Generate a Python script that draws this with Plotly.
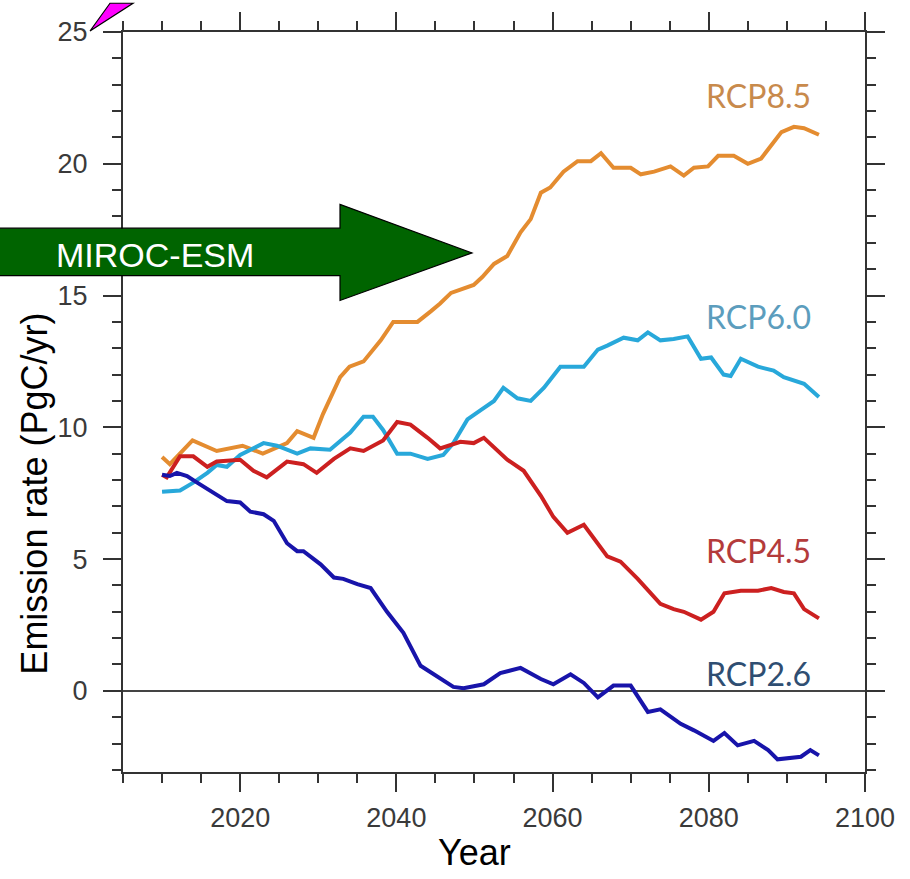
import plotly.graph_objects as go

# ---- data ----
years_85 = [2010, 2011, 2013.9, 2017, 2020.3, 2022.9, 2026, 2027.3, 2029.4, 2030.6, 2032.8, 2034,
            2035.8, 2038, 2039.6, 2042.7, 2044.4, 2045.6, 2047, 2049.9, 2051, 2052.5, 2054.2, 2055.9,
            2057.2, 2058.5, 2059.7, 2061.4, 2063.2, 2064.9, 2066.2, 2067.8, 2070, 2071.3, 2073, 2075.1,
            2076.8, 2078.1, 2079.9, 2081.2, 2083.2, 2085, 2086.7, 2088, 2089.3, 2090.9, 2092.2, 2094.1]
rcp85 = [8.87, 8.6, 9.5, 9.1, 9.3, 9.0, 9.4, 9.85, 9.6, 10.5, 11.9, 12.3,
         12.5, 13.3, 14.0, 14.0, 14.4, 14.7, 15.1, 15.4, 15.7, 16.2, 16.5, 17.4,
         17.9, 18.9, 19.1, 19.7, 20.1, 20.1, 20.4, 19.85, 19.85, 19.6, 19.7, 19.9,
         19.55, 19.85, 19.9, 20.3, 20.3, 20.0, 20.2, 20.7, 21.2, 21.4, 21.35, 21.1]

years_60 = [2010, 2012.3, 2014, 2015.8, 2017, 2018.3, 2020, 2023, 2024.7, 2027.3, 2029, 2031.5,
            2034.1, 2035.8, 2037, 2038.3, 2040.1, 2041.8, 2044, 2046, 2047.3, 2049.1, 2050.8, 2052.5,
            2053.7, 2055.5, 2057.2, 2058.9, 2059.7, 2061, 2064, 2065.8, 2067, 2069.1, 2070.9, 2072.2,
            2073.8, 2075.5, 2077.3, 2079, 2080.3, 2081.9, 2082.8, 2084.1, 2086.3, 2088.3, 2089.6,
            2090.5, 2092.2, 2094.1]
rcp60 = [7.55, 7.6, 7.9, 8.27, 8.57, 8.5, 8.95, 9.4, 9.3, 9.0, 9.2, 9.15,
         9.8, 10.4, 10.4, 9.9, 9.0, 9.0, 8.8, 8.95, 9.4, 10.3, 10.65, 11.0,
         11.5, 11.1, 11.0, 11.5, 11.8, 12.3, 12.3, 12.95, 13.1, 13.4, 13.3, 13.6,
         13.3, 13.35, 13.45, 12.6, 12.65, 12.0, 11.95, 12.6, 12.3, 12.15, 11.9,
         11.8, 11.65, 11.15]

years_45 = [2010, 2010.6, 2012.3, 2014, 2015.8, 2017, 2020, 2021.7, 2023.4, 2026, 2028.1, 2029.8,
            2032, 2034.1, 2035.8, 2037.5, 2038.3, 2040.1, 2041.8, 2044, 2045.6, 2048.2, 2049.9, 2051.2,
            2054.2, 2056.3, 2058.5, 2060.1, 2061.9, 2064, 2067, 2068.7, 2070.9, 2073.8, 2075.5, 2076.8,
            2079, 2080.6, 2082, 2084.1, 2086.3, 2088, 2089.6, 2090.9, 2092.2, 2094.1]
rcp45 = [8.2, 8.1, 8.9, 8.9, 8.5, 8.7, 8.77, 8.35, 8.1, 8.7, 8.6, 8.27,
         8.8, 9.2, 9.1, 9.4, 9.5, 10.2, 10.1, 9.6, 9.2, 9.45, 9.4, 9.6,
         8.77, 8.35, 7.4, 6.6, 6.0, 6.3, 5.1, 4.9, 4.25, 3.3, 3.1, 3.0,
         2.7, 3.0, 3.7, 3.8, 3.8, 3.9, 3.75, 3.7, 3.1, 2.75]

years_26 = [2010, 2011, 2011.9, 2013.2, 2014.5, 2016.2, 2018.3, 2020, 2021.3, 2023, 2024.3, 2026,
            2027.3, 2028.1, 2030.3, 2032, 2033.2, 2035, 2036.7, 2038.8, 2040.9, 2043.1, 2045.3, 2047.3,
            2048.6, 2051.2, 2053.3, 2055.9, 2058.5, 2060.1, 2062.3, 2064, 2065.8, 2067.8, 2070, 2072.2,
            2073.8, 2076.4, 2078.1, 2080.6, 2082, 2083.7, 2085.8, 2087.6, 2088.8, 2090.1, 2091.8, 2093,
            2094.1]
rcp26 = [8.2, 8.15, 8.27, 8.15, 7.9, 7.6, 7.2, 7.15, 6.8, 6.7, 6.45, 5.6,
         5.3, 5.3, 4.8, 4.3, 4.25, 4.05, 3.9, 3.0, 2.2, 0.95, 0.55, 0.15,
         0.1, 0.25, 0.67, 0.87, 0.45, 0.25, 0.63, 0.3, -0.25, 0.2, 0.2, -0.8,
         -0.7, -1.25, -1.5, -1.9, -1.6, -2.07, -1.9, -2.25, -2.6, -2.55, -2.5, -2.25,
         -2.45]

series_names = ["RCP8.5", "RCP6.0", "RCP4.5", "RCP2.6"]
x_tick_vals = [2020, 2040, 2060, 2080, 2100]
y_tick_vals = [0, 5, 10, 15, 20, 25]

# ---- layout geometry ----
W, H = 910, 879
L, R, T, B = 123, 45, 25, 107
PW, PH = W - L - R, H - T - B


def px(x):
    return (x - L) / PW


def py(y):
    return (H - B - y) / PH


def path(points):
    return "M " + " L ".join(f"{px(a):.5f},{py(b):.5f}" for a, b in points) + " Z"


line_colors = ["rgb(228,140,48)", "rgb(40,168,218)", "rgb(204,32,32)", "rgb(24,20,170)"]
label_colors = ["#c88a4c", "#5c9dbd", "#b43b3b", "#2f4e72"]
label_y = [22.6, 14.2, 5.34, 0.64]

fig = go.Figure()
for xs, ys, c, n in zip([years_85, years_60, years_45, years_26],
                        [rcp85, rcp60, rcp45, rcp26], line_colors, series_names):
    fig.add_trace(go.Scatter(x=xs, y=ys, mode="lines", name=n,
                             line=dict(color=c, width=4), showlegend=False))

axis_common = dict(
    showline=True, linecolor="#333", linewidth=2.2, mirror="allticks",
    ticks="outside", ticklen=18, tickwidth=2.2, tickcolor="#333",
    showgrid=False,
    tickfont=dict(family="Liberation Sans, Arial", size=27, color="#3a3a3a"),
)

fig.update_layout(
    width=W, height=H,
    margin=dict(l=L, r=R, t=T, b=B),
    paper_bgcolor="white", plot_bgcolor="white",
    xaxis=dict(range=[2005, 2100], tickvals=x_tick_vals, zeroline=False,
               minor=dict(dtick=5, tick0=2005, ticks="outside", ticklen=9, tickwidth=2,
                          tickcolor="#333", showgrid=False),
               ticklabelstandoff=2, **axis_common),
    yaxis=dict(range=[-3.08, 25], tickvals=y_tick_vals, zeroline=True,
               zerolinecolor="#444", zerolinewidth=2,
               minor=dict(dtick=1, tick0=0, ticks="outside", ticklen=9, tickwidth=2,
                          tickcolor="#333", showgrid=False),
               ticklabelstandoff=10, **axis_common),
)

annotations = []
for name, col, yv in zip(series_names, label_colors, label_y):
    annotations.append(dict(x=2086.4, y=yv, xref="x", yref="y", text=name, showarrow=False,
                            font=dict(family="Lato, Open Sans", size=32, color=col),
                            xanchor="center", yanchor="middle"))

annotations.append(dict(x=px(474), y=py(853), xref="paper", yref="paper", text="Year",
                        showarrow=False, xanchor="center", yanchor="middle",
                        font=dict(family="Liberation Sans, Arial", size=36, color="black")))
annotations.append(dict(x=px(35), y=py(491), xref="paper", yref="paper",
                        text="Emission rate (PgC/yr)", textangle=-90, showarrow=False,
                        xanchor="center", yanchor="middle",
                        font=dict(family="Liberation Sans, Arial", size=36, color="black")))
annotations.append(dict(x=px(155), y=py(250), xref="paper", yref="paper", text="MIROC-ESM",
                        showarrow=False, xanchor="center", yanchor="middle",
                        font=dict(family="Liberation Sans, Arial", size=34, color="white")))

shapes = [
    dict(type="path", xref="paper", yref="paper", layer="above",
         path=path([(-5, 223), (340, 223), (340, 199), (472, 248), (340, 296), (340, 271), (-5, 271)]),
         fillcolor="rgb(0,100,0)", line=dict(color="black", width=1.2)),
    dict(type="path", xref="paper", yref="paper", layer="above",
         path=path([(90, 24), (110, -4), (133, -4)]),
         fillcolor="#ff00ff", line=dict(color="black", width=1.2)),
]

fig.update_layout(annotations=annotations, shapes=shapes)
fig.write_html("out.html")
